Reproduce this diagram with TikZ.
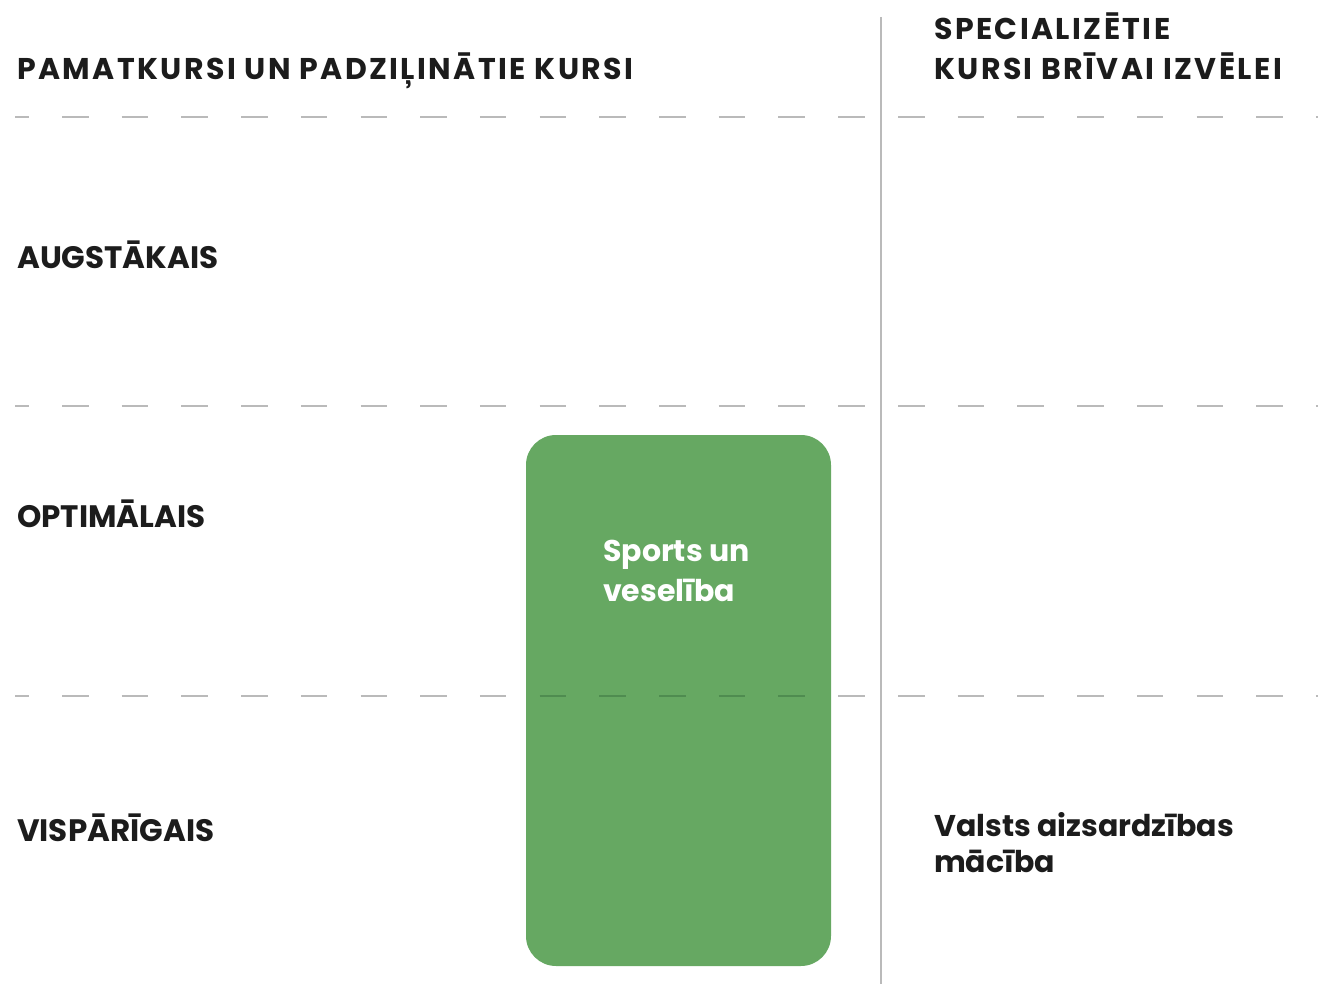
\documentclass[tikz,border=0pt]{standalone}
\usepackage{fontspec}
\setmainfont{Poppins}
\newfontfamily\spacedfont[LetterSpace=8]{Poppins}
\definecolor{ink}{HTML}{1C1C1C}
\definecolor{rule}{HTML}{BABABA}
\definecolor{boxgreen}{HTML}{66A862}
\definecolor{dashongreen}{HTML}{4F8C50}
\tikzset{
  heading/.style={anchor=base west, inner sep=0pt, text=ink, font=\spacedfont\bfseries\fontsize{30}{40}\selectfont, align=left},
  rowlabel/.style={anchor=base west, inner sep=0pt, text=ink, font=\bfseries\fontsize{31}{36}\selectfont},
  course/.style={anchor=base west, inner sep=0pt, font=\bfseries\fontsize{30}{40}\selectfont, align=left},
  dashrule/.style={line width=2.5pt, dash pattern=on 26.5pt off 33.2pt},
  greenbox/.style={fill=boxgreen, draw=none, rounded corners=30pt}
}
\begin{document}
\begin{tikzpicture}[x=1pt,y=-1pt]
\useasboundingbox (0,0) rectangle (1318,984);
% horizontal dashed rules
\foreach \yy/\nm in {117/a,406/b,696/c}{
  \coordinate (L\nm s) at (15,\yy);
  \coordinate (L\nm e) at (866,\yy);
  \coordinate (R\nm s) at (898,\yy);
  \coordinate (R\nm e) at (1318,\yy);
  \draw[rule, dashrule, dash phase=12.7pt] (L\nm s) -- (L\nm e);
  \draw[rule, dashrule] (R\nm s) -- (R\nm e);
}
% vertical divider
\coordinate (vtop) at (881,17);
\coordinate (vbot) at (881,984);
\draw[rule, line width=2.5pt] (vtop) -- (vbot);
% green course box
\path[greenbox] (526,435) rectangle (831,966);
\begin{scope}
  \clip[rounded corners=30pt] (526,435) rectangle (831,966);
  \draw[dashongreen, dashrule, dash phase=12.7pt] (Lcs) -- (Lce);
\end{scope}
% headings
\node[heading] (h1) at (17,80) {PAMATKURSI UN PADZIĻINĀTIE KURSI};
\node[heading] (h2a) at (934,40) {SPECIALIZĒTIE};
\node[heading] (h2b) at (934,80) {KURSI BRĪVAI IZVĒLEI};
% row labels
\node[rowlabel] (r1) at (17,269) {AUGSTĀKAIS};
\node[rowlabel] (r2) at (17,527) {OPTIMĀLAIS};
\node[rowlabel] (r3) at (17,841) {VISPĀRĪGAIS};
% courses (base anchor = baseline of last line)
\node[course, text=white] (c1) at (603,601) {Sports un\\veselība};
\node[course, text=ink, font=\bfseries\fontsize{30}{36}\selectfont] (c2) at (934,872) {Valsts aizsardzības\\mācība};
\end{tikzpicture}
\end{document}
